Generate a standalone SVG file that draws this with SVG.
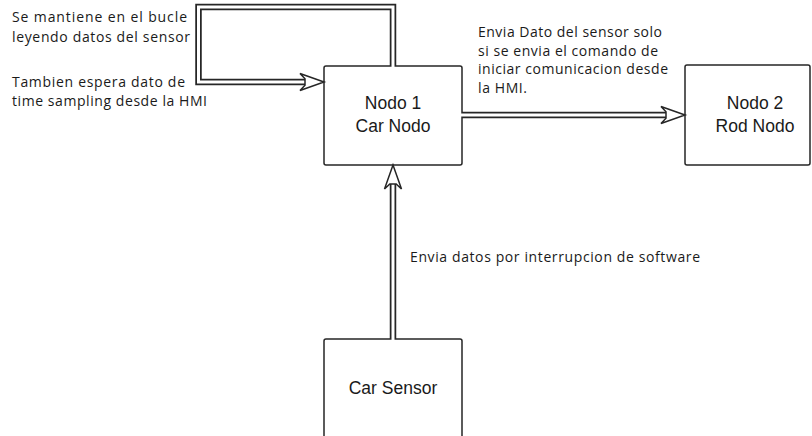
<svg xmlns="http://www.w3.org/2000/svg" xmlns:xlink="http://www.w3.org/1999/xlink" width="812" height="436" viewBox="0 0 812 436">
  <style>
    .box { fill: #ffffff; stroke: #262626; stroke-width: 1.5; }
    .node-label { font-family: "Liberation Sans", Arial, sans-serif; font-size: 17.5px; fill: #1a1a1a; text-anchor: middle; }
    .note { font-family: "Open Sans", "DejaVu Sans", sans-serif; font-size: 14px; fill: #1a1a1a; }
    .shaft-outer { fill: none; stroke: #262626; stroke-width: 6.5; stroke-linejoin: miter; }
    .shaft-inner { fill: none; stroke: #ffffff; stroke-width: 3; stroke-linejoin: miter; }
    .head { fill: #ffffff; stroke: #262626; stroke-width: 1.5; stroke-linejoin: miter; }
  </style>
  <defs>
    <!-- hollow arrowhead, tip at origin, pointing along +x -->
    <path id="arrowhead" d="M0,0 L-24,-8.5 L-19,-3.2 L-19,3.2 L-24,8.5 Z"/>
  </defs>

  <rect width="812" height="436" fill="#ffffff"/>

  <!-- nodes -->
  <g id="nodo1">
    <rect class="box" x="324" y="66" width="138" height="99" rx="2"/>
    <text class="node-label" x="393" y="109">Nodo 1</text>
    <text class="node-label" x="393" y="132">Car Nodo</text>
  </g>
  <g id="nodo2">
    <rect class="box" x="685" y="65" width="125" height="100" rx="2"/>
    <text class="node-label" x="755" y="109">Nodo 2</text>
    <text class="node-label" x="755" y="132">Rod Nodo</text>
  </g>
  <g id="car-sensor">
    <rect class="box" x="324" y="339" width="138" height="110" rx="2"/>
    <text class="node-label" x="393" y="394">Car Sensor</text>
  </g>

  <!-- connectors -->
  <g id="connectors">
    <!-- self loop on Nodo 1 -->
    <path class="shaft-outer" d="M393,66 V7 H198.5 V82 H306"/>
    <path class="shaft-inner" d="M393,67 V7 H198.5 V82 H306"/>
    <use xlink:href="#arrowhead" class="head" transform="translate(324,82)"/>

    <!-- Nodo 1 to Nodo 2 -->
    <path class="shaft-outer" d="M462,115 H667"/>
    <path class="shaft-inner" d="M461,115 H667"/>
    <use xlink:href="#arrowhead" class="head" transform="translate(685,115)"/>

    <!-- Car Sensor to Nodo 1 -->
    <path class="shaft-outer" d="M393,339 V183"/>
    <path class="shaft-inner" d="M393,340 V183"/>
    <use xlink:href="#arrowhead" class="head" transform="translate(393,165) rotate(-90)"/>
  </g>

  <!-- annotations -->
  <g id="notes">
    <text class="note" x="12" y="22" textLength="175" lengthAdjust="spacing">Se mantiene en el bucle</text>
    <text class="note" x="12" y="42" textLength="178" lengthAdjust="spacing">leyendo datos del sensor</text>
    <text class="note" x="12" y="87" textLength="173" lengthAdjust="spacing">Tambien espera dato de</text>
    <text class="note" x="12" y="106" textLength="195" lengthAdjust="spacing">time sampling desde la HMI</text>

    <text class="note" x="478" y="37" textLength="184" lengthAdjust="spacing">Envia Dato del sensor solo</text>
    <text class="note" x="478" y="56" textLength="180" lengthAdjust="spacing">si se envia el comando de</text>
    <text class="note" x="478" y="74" textLength="190" lengthAdjust="spacing">iniciar comunicacion desde</text>
    <text class="note" x="478" y="93" textLength="49" lengthAdjust="spacing">la HMI.</text>

    <text class="note" x="410" y="262" textLength="290" lengthAdjust="spacing">Envia datos por interrupcion de software</text>
  </g>
</svg>
